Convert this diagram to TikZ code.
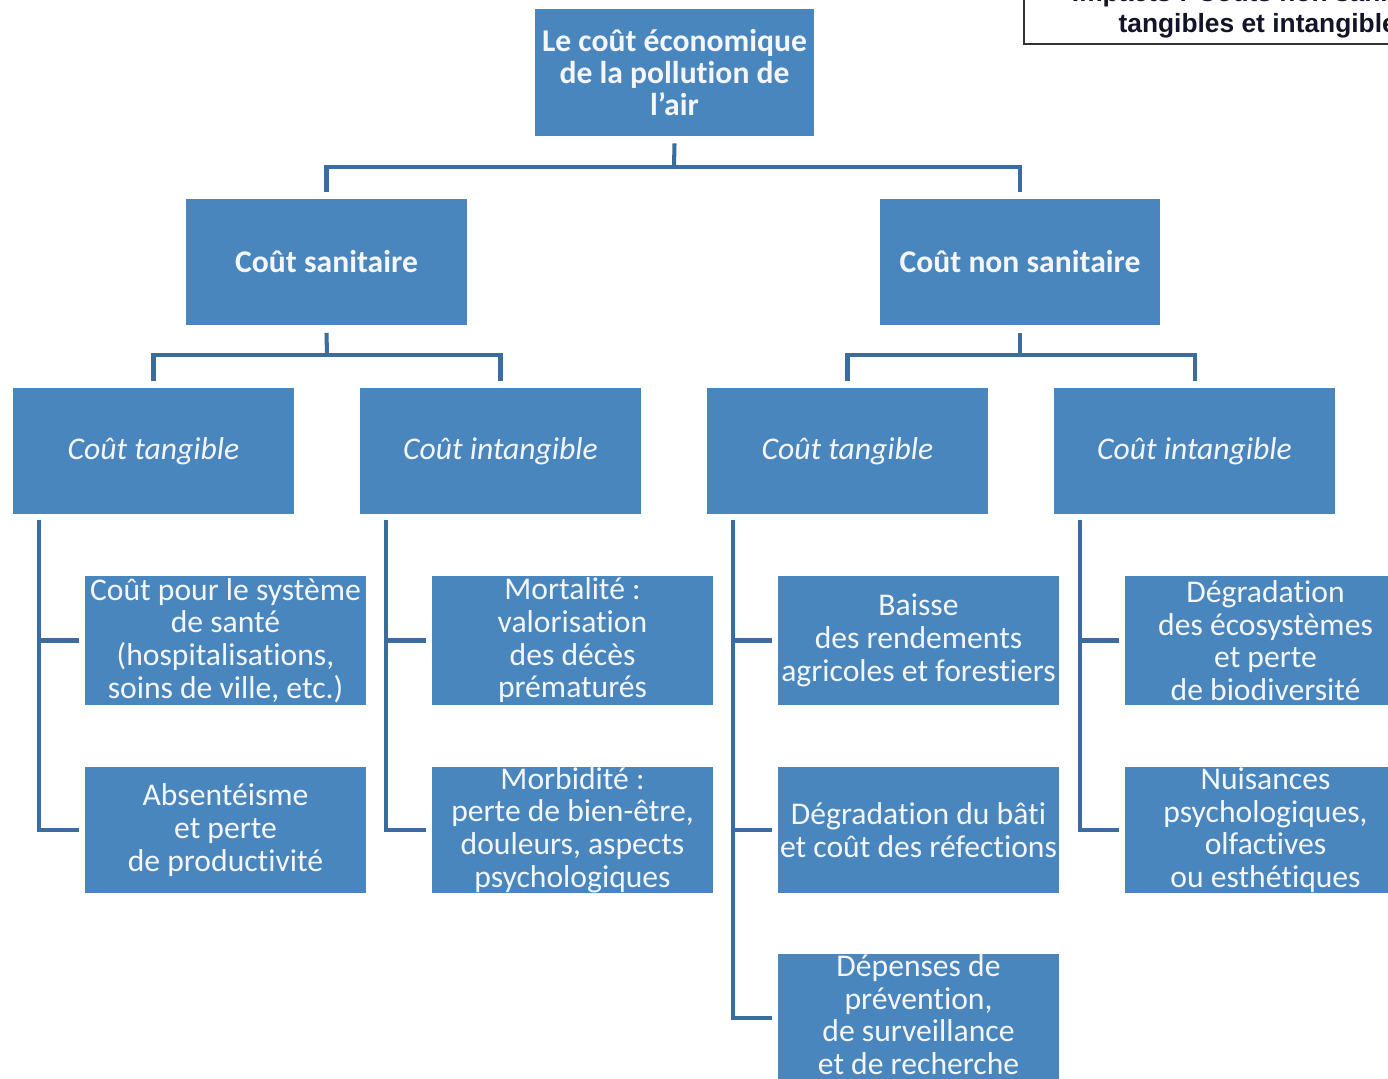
\documentclass[tikz,border=0pt]{standalone}
\usepackage{fontspec}
\setmainfont{Carlito}[Ligatures=TeX, RawFeature={-liga;-clig;-calt;-rlig;-dlig}]
\newfontfamily\headfont{Liberation Sans}
\usetikzlibrary{positioning}
\definecolor{boxblue}{RGB}{74,134,190}
\definecolor{linkblue}{RGB}{58,108,160}
\definecolor{txtwhite}{RGB}{244,246,250}
\definecolor{inkdark}{RGB}{20,20,40}
\begin{document}
\begin{tikzpicture}[x=0.02cm,y=-0.02cm,
  box/.style={rectangle, fill=boxblue, inner sep=0pt, minimum width=5.62cm,
    minimum height=2.54cm, align=center, text=txtwhite,
    font=\fontsize{18}{18.6}\selectfont},
  boldbox/.style={box, font=\fontsize{18}{18.3}\selectfont\bfseries},
  itbox/.style={box, font=\fontsize{18}{18.6}\selectfont\itshape},
  leaf/.style={box, minimum height=2.58cm},
  headline/.style={anchor=base, inner sep=0pt, text=inkdark,
    font=\headfont\fontsize{15}{17}\selectfont\bfseries},
  link/.style={draw=linkblue, line width=2.3pt}]
\useasboundingbox (0,0) rectangle (1388,1078);
\clip (0,0) rectangle (1388,1078);

% title frame, top right
\draw[black!80, line width=1.2pt] (1024,-20) rectangle (1520,44);
\node[headline] (head1) at (1265,2) {Impacts : Coûts non sanitaires};
\node[headline] (head2) at (1265,33) {tangibles et intangibles};

% root and the two main branches
\node[boldbox, minimum width=5.58cm] (root) at (674.5,72.5)
  {Le coût économique\\de la pollution de\\l’air};
\node[boldbox] (san) at (326.5,262) {Coût sanitaire};
\node[boldbox] (nsan) at (1020,262) {Coût non sanitaire};

% tangible / intangible
\node[itbox] (st) at (153.5,451) {Coût tangible};
\node[itbox] (si) at (500.5,451) {Coût intangible};
\node[itbox] (nt) at (847.5,451) {Coût tangible};
\node[itbox] (ni) at (1194.5,451) {Coût intangible};

% leaves
\node[leaf] (st1) at (225.5,640.5)
  {Coût pour le système\\de santé\\(hospitalisations,\\soins de ville, etc.)};
\node[leaf, minimum height=2.52cm] (st2) at (225.5,830)
  {Absentéisme\\et perte\\de productivité};
\node[leaf] (si1) at (572.5,640.5)
  {Mortalité :\\valorisation\\des décès\\prématurés};
\node[leaf, minimum height=2.52cm] (si2) at (572.5,830)
  {Morbidité :\\perte de bien-être,\\douleurs, aspects\\psychologiques};
\node[leaf] (nt1) at (918.5,640.5)
  {Baisse\\des rendements\\agricoles et forestiers};
\node[leaf, minimum height=2.52cm] (nt2) at (918.5,830)
  {Dégradation du bâti\\et coût des réfections};
\node[leaf, anchor=north, minimum height=2.4cm] (nt3) at (918.5,954)
  {Dépenses de\\prévention,\\de surveillance\\et de recherche};
\node[leaf] (ni1) at (1265.5,640.5)
  {Dégradation\\des écosystèmes\\et perte\\de biodiversité};
\node[leaf, minimum height=2.52cm] (ni2) at (1265.5,830)
  {Nuisances\\psychologiques,\\olfactives\\ou esthétiques};
% the last box runs on past the lower edge
\fill[boxblue] (nt3.south west) rectangle ([yshift=-1cm]nt3.south east);

% junction points
\coordinate (j0) at (674,167);
\coordinate (j1) at (327,355);
\coordinate (j2) at (1020,355);
\coordinate (b1) at (39,520);
\coordinate (b2) at (386,520);
\coordinate (b3) at (733,520);
\coordinate (b4) at (1080,520);
\coordinate (e3) at (733,1018);

% root connectors
\draw[link] ([yshift=-4pt]root.south) -- (j0);
\draw[link] ([yshift=3.4pt]san.north) |- (j0) -| ([yshift=3.4pt]nsan.north);

% second level connectors
\draw[link] ([yshift=-4pt]san.south) -- (j1);
\draw[link] ([yshift=3.4pt]st.north) |- (j1) -| ([yshift=3.4pt]si.north);
\draw[link] ([yshift=-4pt]nsan.south) -- (j2);
\draw[link] ([yshift=3.4pt]nt.north) |- (j2) -| ([yshift=3.4pt]ni.north);

% leaf brackets
\draw[link] (b1) |- ([xshift=-3pt]st2.west);
\draw[link] (st1.west -| b1) -- ([xshift=-3pt]st1.west);
\draw[link] (b2) |- ([xshift=-3pt]si2.west);
\draw[link] (si1.west -| b2) -- ([xshift=-3pt]si1.west);
\draw[link] (b3) -- (e3) -- ([xshift=-3pt]e3 -| nt3.west);
\draw[link] (nt1.west -| b3) -- ([xshift=-3pt]nt1.west);
\draw[link] (nt2.west -| b3) -- ([xshift=-3pt]nt2.west);
\draw[link] (b4) |- ([xshift=-3pt]ni2.west);
\draw[link] (ni1.west -| b4) -- ([xshift=-3pt]ni1.west);
\end{tikzpicture}
\end{document}
